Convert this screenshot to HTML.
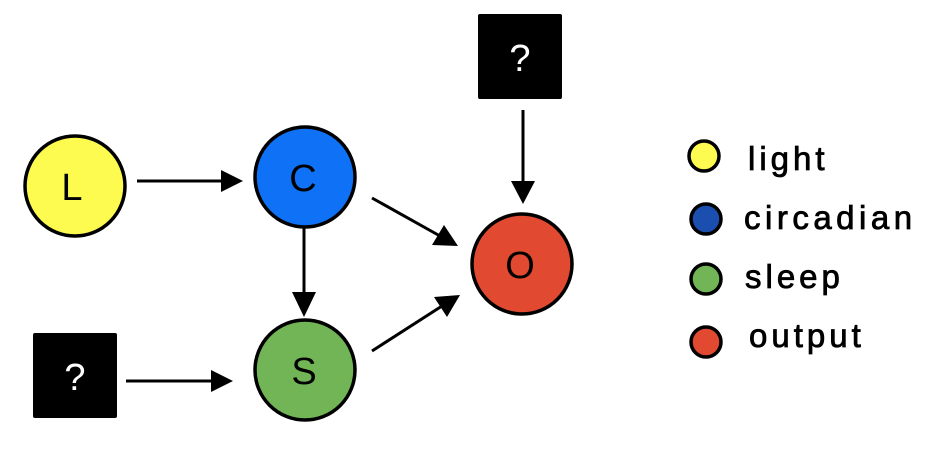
<!DOCTYPE html>
<html><head><meta charset="utf-8"><style>body{margin:0;background:#fff}</style></head>
<body>
<svg width="940" height="460" viewBox="0 0 940 460" xmlns="http://www.w3.org/2000/svg">
<g stroke="#000" stroke-width="3" fill="none">
<line x1="137" y1="181" x2="222" y2="181"/>
<line x1="304" y1="228" x2="304" y2="292"/>
<line x1="126" y1="381" x2="212" y2="381"/>
<line x1="372" y1="198" x2="440" y2="236"/>
<line x1="372" y1="351" x2="442" y2="306"/>
<line x1="523" y1="110" x2="523" y2="184"/>
</g>
<g fill="#000">
<polygon points="243,181 221,170 221,192"/>
<polygon points="304,317 292,292 316,292"/>
<polygon points="233,381 211,370 211,392"/>
<polygon points="458,246 432,245 444,225"/>
<polygon points="460,295 447,317 434,297"/>
<polygon points="523,204 511,181 535,181"/>
<rect x="33" y="333" width="84" height="85" rx="2"/>
<rect x="478" y="14" width="84" height="85" rx="2"/>
</g>
<g stroke="#000" stroke-width="3.5">
<circle cx="75" cy="186" r="50" fill="#fdfb4f"/>
<circle cx="305" cy="177" r="50" fill="#0e71f6"/>
<circle cx="305" cy="370" r="50" fill="#72b556"/>
<circle cx="522" cy="264" r="50" fill="#e14a31"/>
<circle cx="704" cy="156" r="15" fill="#fdfb4f"/>
<circle cx="706" cy="219" r="15" fill="#1a4faf"/>
<circle cx="706" cy="279" r="15" fill="#72b556"/>
<circle cx="706" cy="342" r="15" fill="#e14a31"/>
</g>
<g font-family="Liberation Sans, sans-serif" font-size="38" text-anchor="middle" fill="#000">
<text x="72" y="200">L</text>
<text x="303" y="191">C</text>
<text x="304" y="384">S</text>
<text x="520" y="278">O</text>
<text x="75" y="390" fill="#fff">?</text>
<text x="520" y="71" fill="#fff">?</text>
</g>
<g font-family="Liberation Sans, sans-serif" font-size="33" fill="#000" stroke="#000" stroke-width="0.8">
<text x="748" y="170" letter-spacing="4">light</text>
<text x="744" y="229" letter-spacing="4.5">circadian</text>
<text x="745" y="288" letter-spacing="4">sleep</text>
<text x="749" y="347" letter-spacing="4">output</text>
</g>
</svg>
</body></html>
